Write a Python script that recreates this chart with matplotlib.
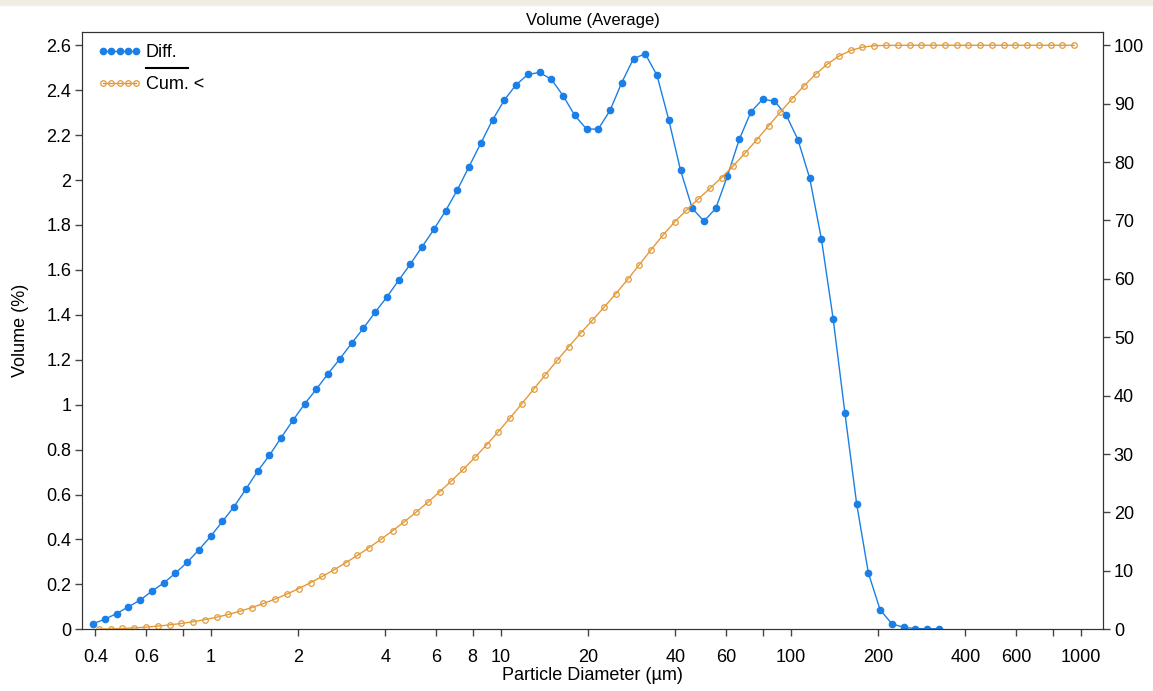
import numpy as np
import matplotlib
matplotlib.use("Agg")
import matplotlib.pyplot as plt
from matplotlib.ticker import FixedLocator, FuncFormatter, NullLocator
from matplotlib.patches import Rectangle

plt.rcParams['font.family'] = ['Liberation Sans', 'DejaVu Sans']

# channel edges of the sizer (um)
edges = [0.375, 0.412, 0.452, 0.496, 0.545, 0.598, 0.657, 0.721, 0.791, 0.869,
         0.954, 1.047, 1.149, 1.261, 1.385, 1.520, 1.669, 1.832, 2.011, 2.208,
         2.423, 2.660, 2.920, 3.206, 3.519, 3.863, 4.241, 4.656, 5.111, 5.611,
         6.159, 6.761, 7.422, 8.148, 8.944, 9.819, 10.78, 11.83, 12.99, 14.26,
         15.65, 17.18, 18.86, 20.71, 22.73, 24.95, 27.39, 30.07, 33.01, 36.24,
         39.78, 43.67, 47.94, 52.63, 57.77, 63.42, 69.62, 76.43, 83.90, 92.10,
         101.1, 111.0, 121.8, 133.7, 146.8, 161.2, 176.8, 194.2, 213.2, 234.1,
         256.9, 282.1, 309.6, 339.9, 373.1, 409.6, 449.7, 493.6, 541.9, 594.9,
         653.0, 716.9, 786.9, 863.9, 948.3]

# differential volume % per channel
diff = [0.025, 0.045, 0.07, 0.10, 0.13, 0.17, 0.206, 0.25, 0.298, 0.354,
        0.414, 0.48, 0.546, 0.624, 0.704, 0.774, 0.853, 0.93, 1.003, 1.069,
        1.138, 1.204, 1.273, 1.34, 1.411, 1.479, 1.553, 1.626, 1.703, 1.78,
        1.863, 1.956, 2.06, 2.164, 2.268, 2.356, 2.424, 2.47, 2.479, 2.449,
        2.376, 2.288, 2.227, 2.227, 2.31, 2.434, 2.541, 2.562, 2.466, 2.268,
        2.044, 1.874, 1.817, 1.874, 2.019, 2.181, 2.304, 2.36, 2.351, 2.289,
        2.179, 2.008, 1.737, 1.381, 0.961, 0.558, 0.25, 0.086, 0.024, 0.009,
        0.003, 0.003, 0.002]

# cumulative volume % (undersize) at upper channel edges
cum = [0.03, 0.07, 0.14, 0.24, 0.37, 0.54, 0.75, 1.0, 1.29, 1.65,
       2.06, 2.54, 3.09, 3.71, 4.42, 5.19, 6.04, 6.97, 7.98, 9.05,
       10.18, 11.39, 12.66, 14.0, 15.41, 16.89, 18.44, 20.07, 21.77, 23.55,
       25.42, 27.37, 29.43, 31.6, 33.86, 36.22, 38.64, 41.11, 43.59, 46.04,
       48.42, 50.71, 52.93, 55.16, 57.47, 59.9, 62.44, 65.01, 67.47, 69.74,
       71.78, 73.66, 75.48, 77.35, 79.37, 81.55, 83.85, 86.21, 88.56, 90.85,
       93.03, 95.04, 96.78, 98.16, 99.12, 99.68, 99.93, 99.98, 99.99, 100.0,
       100.0, 100.0, 100.0, 100.0, 100.0, 100.0, 100.0, 100.0, 100.0, 100.0,
       100.0, 100.0, 100.0, 100.0]

xticks = [0.4, 0.6, 0.8, 1, 2, 4, 6, 8, 10, 20, 40, 60, 80, 100, 200, 400, 600, 800, 1000]
xlabels = ['0.4', '0.6', '', '1', '2', '4', '6', '8', '10', '20', '40', '60', '', '100',
           '200', '400', '600', '', '1000']

edges = np.array(edges)
mids = np.sqrt(edges[:-1] * edges[1:])[:len(diff)]
uppers = edges[1:len(cum) + 1]

blue = '#1a7fe6'
orange = '#e39a3b'

fig = plt.figure(figsize=(11.53, 6.91), dpi=100)
fig.patches.append(Rectangle((0, 0.993), 1, 0.007, transform=fig.transFigure,
                             color='#f1ede3', zorder=0))
ax = fig.add_axes([0.0714, 0.0893, 0.885, 0.864])
ax2 = ax.twinx()

l1, = ax.plot(mids, diff, color=blue, lw=1, marker='o', ms=4.5, mec=blue, mfc=blue)
l2, = ax2.plot(uppers, cum, color=orange, lw=1, marker='o', ms=4, mec=orange,
               mfc='none', mew=0.9)

ax.set_xscale('log')
ax.set_xlim(0.3607, 1191)
ax.set_ylim(0, 2.658)
ax2.set_ylim(0, 2.658 / 2.6 * 100)

ax.xaxis.set_major_locator(FixedLocator(xticks))
ax.xaxis.set_minor_locator(NullLocator())
ax.set_xticklabels(xlabels)
ax.set_yticks(np.arange(0, 2.61, 0.2))
ax.yaxis.set_major_formatter(FuncFormatter(lambda v, p: '%g' % round(v, 1)))
ax2.set_yticks(np.arange(0, 101, 10))

for a in (ax, ax2):
    a.tick_params(labelsize=13, length=5, width=1, color='#444444', pad=3)
    for s in a.spines.values():
        s.set_color('#333333')
ax.tick_params(axis='x', pad=9)

ax.set_xlabel('Particle Diameter (µm)', fontsize=13, labelpad=1)
ax.set_ylabel('Volume (%)', fontsize=13, labelpad=12)
ax.set_title('Volume (Average)', fontsize=12, pad=5)

leg = ax.legend([l1, l2], ['Diff.', 'Cum. <'], loc='upper left', frameon=False,
                numpoints=5, handlelength=2.45, handletextpad=0.2, fontsize=13,
                labelspacing=0.85, borderaxespad=0.45, bbox_to_anchor=(0.0, 1.006))
ax.plot([0.0624, 0.1036], [0.940, 0.940], transform=ax.transAxes, color='black',
        lw=1.5, clip_on=False)

fig.savefig('out.png', dpi=100)
